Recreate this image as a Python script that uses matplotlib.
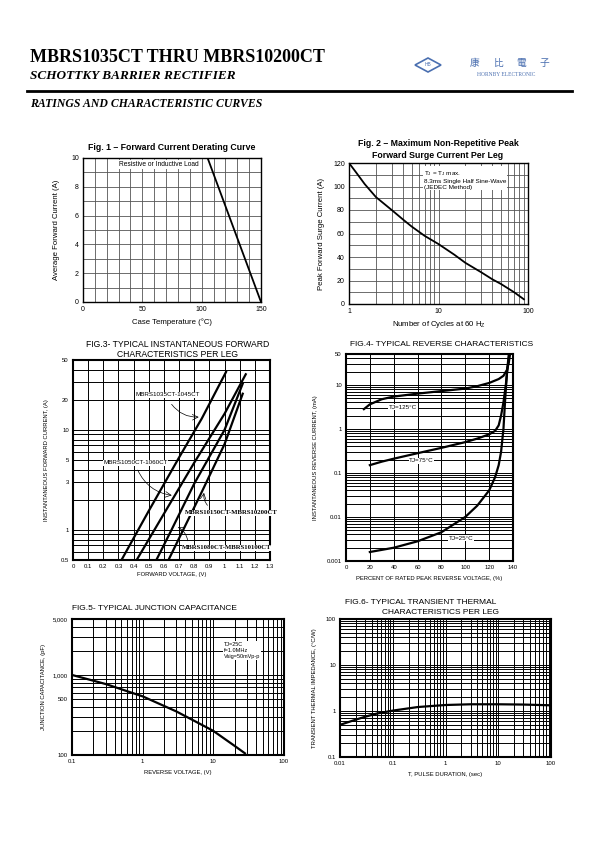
import matplotlib.pyplot as plt
import matplotlib.ticker as mticker
from matplotlib.patches import Polygon
import numpy as np

plt.rcParams['font.family'] = ['Liberation Sans', 'DejaVu Sans']

# ---- data ----
# Fig.1 derating
f1_temp = [0, 105, 150]
f1_curr = [10, 10, 0]

# Fig.2 surge current
f2_cycles = [1, 1.2, 1.5, 2, 3, 4, 5, 7, 10, 15, 20, 30, 40, 50, 70, 90]
f2_amps = [120, 112, 102, 91, 80, 72, 66, 58, 51, 42, 35, 27, 21, 17, 10, 4]

# Fig.3 forward characteristics (V, A)
f3_v1 = [0.32, 0.5, 0.7, 0.85, 1.01]
f3_i1 = [0.5, 1.55, 5.3, 13, 38]
f3_v2 = [0.42, 0.6, 0.8, 1.0, 1.14]
f3_i2 = [0.5, 1.45, 4.7, 14.5, 36]
f3_v3 = [0.55, 0.65, 0.8, 1.0, 1.12]
f3_i3 = [0.5, 1.0, 2.9, 10, 29]
f3_v4 = [0.63, 0.72, 0.85, 1.0, 1.12]
f3_i4 = [0.5, 0.95, 2.4, 7.2, 23]

# Fig.4 reverse characteristics (% VRRM, mA)
f4_x125 = [15, 20, 30, 40, 60, 80, 100, 110, 120, 128, 132, 135, 136.5, 137.5]
f4_y125 = [2.8, 3.6, 4.7, 5.4, 6.3, 7.2, 8.2, 9.3, 11, 13.5, 16, 22, 32, 50]
f4_x75 = [20, 30, 40, 60, 80, 100, 110, 120, 125, 128, 130, 132, 134, 135.5, 137]
f4_y75 = [0.15, 0.18, 0.21, 0.28, 0.37, 0.5, 0.6, 0.75, 0.9, 1.2, 2, 4, 10, 25, 50]
f4_x25 = [20, 40, 60, 80, 100, 110, 120, 125, 128, 130, 132, 133.5, 135, 136.5]
f4_y25 = [0.0016, 0.002, 0.0028, 0.0045, 0.01, 0.018, 0.04, 0.08, 0.15, 0.3, 1.0, 5, 20, 50]

# Fig.5 junction capacitance (V, pF)
f5_v = [0.1, 0.3, 1, 3, 10, 20, 28]
f5_c = [1000, 770, 540, 350, 200, 130, 105]

# Fig.6 transient thermal impedance (s, C/W)
f6_t = [0.01, 0.02, 0.03, 0.05, 0.1, 0.3, 1, 3, 10, 30, 100]
f6_z = [0.5, 0.65, 0.75, 0.88, 1.02, 1.22, 1.35, 1.4, 1.4, 1.38, 1.33]

W, H = 595, 842
fig = plt.figure(figsize=(5.95, 8.42), dpi=100)


def box(x0, y0, x1, y1):
    return [x0 / W, 1 - y1 / H, (x1 - x0) / W, (y1 - y0) / H]


def ftext(x, y, s, **kw):
    fig.text(x / W, 1 - y / H, s, **kw)


def style(ax, lw=1.0, fs=5):
    for s in ax.spines.values():
        s.set_linewidth(lw)
    ax.tick_params(which='both', length=0, labelsize=fs, pad=3)
    ax.set_axisbelow(True)


# ---- header ----
ftext(30, 57, 'MBRS1035CT THRU MBRS10200CT', family='Liberation Serif',
      weight='bold', fontsize=13, va='center')
ftext(30, 76, 'SCHOTTKY BARRIER RECTIFIER', family='Liberation Serif',
      weight='bold', style='italic', fontsize=9.5, va='center')
fig.add_artist(plt.Line2D([27 / W, 572 / W], [1 - 91 / H, 1 - 91 / H], color='black', lw=2))
ftext(30, 104, 'RATINGS AND CHARACTERISTIC CURVES', family='Liberation Serif',
      weight='bold', style='italic', fontsize=8.5, va='center')
logo_c = '#4a6fb0'
fig.add_artist(Polygon([[415 / W, 1 - 65 / H], [428 / W, 1 - 58 / H], [441 / W, 1 - 65 / H],
                        [428 / W, 1 - 72 / H]], closed=True, fill=False, ec=logo_c, lw=1.2))
ftext(428, 65, 'HB', fontsize=3.5, color=logo_c, ha='center', va='center')
for cx, ch in zip([475, 498, 521, 544], '康比電子'):
    ftext(cx, 63, ch, family=['Noto Sans CJK TC', 'DejaVu Sans'], fontsize=7,
          color=logo_c, ha='center', va='center')
ftext(506, 74, 'HORNBY ELECTRONIC', family='Liberation Serif', fontsize=4, color=logo_c,
      ha='center', va='center')

# ---- Fig.1 ----
ax1 = fig.add_axes(box(83, 158, 261, 302))
ax1.plot(f1_temp, f1_curr, color='black', lw=1.3)
ax1.set_xlim(0, 150)
ax1.set_ylim(0, 10)
ax1.set_xticks([0, 50, 100, 150])
ax1.set_yticks([0, 2, 4, 6, 8, 10])
ax1.xaxis.set_minor_locator(mticker.MultipleLocator(10))
ax1.yaxis.set_minor_locator(mticker.MultipleLocator(1))
ax1.grid(which='both', color='#555555', lw=0.6)
ax1.text(30, 9.55, 'Resistive or Inductive Load', fontsize=4.8, va='center',
         bbox=dict(fc='white', ec='none', pad=0.5))
style(ax1, 1.0, 5)
ax1.set_xlabel('Case Temperature (°C)', fontsize=5.6, labelpad=4)
ax1.set_ylabel('Average Forward Current (A)', fontsize=5.6, labelpad=8)
ftext(172, 147, 'Fig. 1 – Forward Current Derating Curve', fontsize=6.3, weight='bold',
      ha='center', va='center')

# ---- Fig.2 ----
ax2 = fig.add_axes(box(349, 163, 528, 304))
ax2.plot(f2_cycles, f2_amps, color='black', lw=1.3)
ax2.set_xscale('log')
ax2.set_xlim(1, 100)
ax2.set_ylim(0, 120)
ax2.set_xticks([1, 10, 100])
ax2.xaxis.set_major_formatter(mticker.FormatStrFormatter('%g'))
ax2.xaxis.set_minor_locator(mticker.LogLocator(subs=np.arange(2, 10)))
ax2.xaxis.set_minor_formatter(mticker.NullFormatter())
ax2.set_yticks(np.arange(0, 121, 20))
ax2.yaxis.set_minor_locator(mticker.MultipleLocator(10))
ax2.grid(which='both', color='#555555', lw=0.6)
ax2.text(6.8, 115, 'T$_\\mathregular{J}$ = T$_\\mathregular{J}$ max.\n8.3ms Single Half Sine-Wave\n(JEDEC Method)',
         fontsize=4.6, va='top', linespacing=1.25, bbox=dict(fc='white', ec='none', pad=0.5))
style(ax2, 1.0, 5)
ax2.set_xlabel('Number of Cycles at 60 H$_\\mathregular{Z}$', fontsize=5.6, labelpad=3)
ax2.set_ylabel('Peak Forward Surge Current (A)', fontsize=5.6, labelpad=6)
ftext(438, 143, 'Fig. 2 – Maximum Non-Repetitive Peak', fontsize=6.3, weight='bold',
      ha='center', va='center')
ftext(438, 155, 'Forward Surge Current Per Leg', fontsize=6.3, weight='bold',
      ha='center', va='center')

# ---- Fig.3 ----
ax3 = fig.add_axes(box(73, 360, 270, 560))
for v, i in [(f3_v1, f3_i1), (f3_v2, f3_i2), (f3_v3, f3_i3), (f3_v4, f3_i4)]:
    ax3.plot(v, i, color='black', lw=1.6)
ax3.set_yscale('log')
ax3.set_xlim(0, 1.3)
ax3.set_ylim(0.5, 50)
ax3.set_xticks(np.round(np.arange(0, 1.31, 0.1), 1))
ax3.xaxis.set_major_formatter(mticker.FormatStrFormatter('%g'))
ax3.set_yticks([0.5, 1, 3, 5, 10, 20, 50])
ax3.yaxis.set_major_formatter(mticker.FormatStrFormatter('%g'))
ax3.yaxis.set_minor_locator(mticker.FixedLocator(
    [0.6, 0.7, 0.8, 0.9, 2, 4, 6, 7, 8, 9, 30, 40]))
ax3.yaxis.set_minor_formatter(mticker.NullFormatter())
ax3.grid(which='both', color='black', lw=0.7)
lab = dict(fontsize=4.5, bbox=dict(fc='white', ec='none', pad=0.4))
serif = dict(fontsize=4.9, family='Liberation Serif', weight='bold',
             bbox=dict(fc='white', ec='none', pad=0.4))
arr = dict(arrowstyle='->', lw=0.5, color='black', connectionstyle='arc3,rad=0.3')
ax3.text(0.41, 22.5, 'MBRS1035CT-1045CT', va='center', **lab)
ax3.annotate('', xy=(0.848, 13.5), xytext=(0.64, 19), arrowprops=arr)
ax3.text(0.2, 4.7, 'MBRS1050CT-1060CT', va='center', **lab)
ax3.annotate('', xy=(0.67, 2.2), xytext=(0.42, 4.2), arrowprops=arr)
ax3.text(0.74, 1.48, 'MBRS10150CT-MBRS10200CT', va='center', **serif)
ax3.annotate('', xy=(0.868, 2.5), xytext=(0.9, 1.68),
             arrowprops=dict(arr, connectionstyle='arc3,rad=-0.3'))
ax3.text(0.72, 0.66, 'MBRS1080CT-MBRS10100CT', va='center', **serif)
ax3.annotate('', xy=(0.676, 1.1), xytext=(0.76, 0.73), arrowprops=arr)
style(ax3, 1.5, 4.3)
ax3.set_xlabel('FORWARD VOLTAGE, (V)', fontsize=4.2, labelpad=2)
ax3.set_ylabel('INSTANTANEOUS FORWARD CURRENT, (A)', fontsize=4.2, labelpad=8)
ftext(178, 345, 'FIG.3- TYPICAL INSTANTANEOUS FORWARD', fontsize=6.2, ha='center', va='center')
ftext(178, 354, 'CHARACTERISTICS PER LEG', fontsize=6.2, ha='center', va='center')

# ---- Fig.4 ----
ax4 = fig.add_axes(box(346, 354, 513, 561))
for x, y in [(f4_x125, f4_y125), (f4_x75, f4_y75), (f4_x25, f4_y25)]:
    ax4.plot(x, y, color='black', lw=1.6)
ax4.set_yscale('log')
ax4.set_xlim(0, 140)
ax4.set_ylim(0.001, 50)
ax4.set_xticks(np.arange(0, 141, 20))
ax4.set_yticks([0.001, 0.01, 0.1, 1, 10, 50])
ax4.yaxis.set_major_formatter(mticker.FormatStrFormatter('%g'))
ax4.yaxis.set_minor_locator(mticker.LogLocator(subs=np.arange(2, 10)))
ax4.yaxis.set_minor_formatter(mticker.NullFormatter())
ax4.grid(which='both', color='black', lw=0.7)
ax4.text(36, 3.1, 'TJ=125°C', va='center', **lab)
ax4.text(53, 0.19, 'TJ=75°C', va='center', **lab)
ax4.text(86, 0.0033, 'TJ=25°C', va='center', **lab)
style(ax4, 1.5, 4.3)
ax4.set_xlabel('PERCENT OF RATED PEAK REVERSE VOLTAGE, (%)', fontsize=4.2, labelpad=4)
ax4.set_ylabel('INSTANTANEOUS REVERSE CURRENT, (mA)', fontsize=4.2, labelpad=6)
ftext(442, 345, 'FIG.4- TYPICAL REVERSE CHARACTERISTICS', fontsize=6.0, ha='center', va='center')

# ---- Fig.5 ----
ax5 = fig.add_axes(box(72, 619, 284, 755))
ax5.plot(f5_v, f5_c, color='black', lw=1.6)
ax5.set_xscale('log')
ax5.set_yscale('log')
ax5.set_xlim(0.1, 100)
ax5.set_ylim(100, 5000)
ax5.set_xticks([0.1, 1, 10, 100])
ax5.xaxis.set_major_formatter(mticker.FormatStrFormatter('%g'))
ax5.xaxis.set_minor_locator(mticker.LogLocator(subs=np.arange(2, 10)))
ax5.xaxis.set_minor_formatter(mticker.NullFormatter())
ax5.yaxis.set_major_locator(mticker.FixedLocator([100, 500, 1000, 5000]))
ax5.yaxis.set_major_formatter(mticker.FixedFormatter(['100', '500', '1,000', '5,000']))
ax5.yaxis.set_minor_locator(mticker.FixedLocator([200, 300, 400, 600, 700, 800, 900, 2000, 3000, 4000]))
ax5.yaxis.set_minor_formatter(mticker.NullFormatter())
ax5.grid(which='both', color='black', lw=0.7)
ax5.text(14, 2600, 'TJ=25C\nf=1.0MHz\nVsig=50mVp-p', fontsize=4.0, va='top', linespacing=1.3,
         bbox=dict(fc='white', ec='none', pad=0.6))
style(ax5, 1.5, 4.3)
ax5.set_xlabel('REVERSE VOLTAGE, (V)', fontsize=4.2, labelpad=4)
ax5.set_ylabel('JUNCTION CAPACITANCE, (pF)', fontsize=4.2, labelpad=5)
ftext(72, 608, 'FIG.5- TYPICAL JUNCTION CAPACITANCE', fontsize=6.0, va='center')

# ---- Fig.6 ----
ax6 = fig.add_axes(box(340, 619, 551, 757))
ax6.plot(f6_t, f6_z, color='black', lw=1.6)
ax6.set_xscale('log')
ax6.set_yscale('log')
ax6.set_xlim(0.01, 100)
ax6.set_ylim(0.1, 100)
ax6.set_xticks([0.01, 0.1, 1, 10, 100])
ax6.set_yticks([0.1, 1, 10, 100])
for a in (ax6.xaxis, ax6.yaxis):
    a.set_major_formatter(mticker.FormatStrFormatter('%g'))
    a.set_minor_locator(mticker.LogLocator(subs=np.arange(2, 10)))
    a.set_minor_formatter(mticker.NullFormatter())
ax6.grid(which='both', color='black', lw=0.7)
style(ax6, 1.5, 4.3)
ax6.set_xlabel('T, PULSE DURATION, (sec)', fontsize=4.2, labelpad=4)
ax6.set_ylabel('TRANSIENT THERMAL IMPEDANCE, (°C/W)', fontsize=4.2, labelpad=6)
ftext(421, 603, 'FIG.6- TYPICAL TRANSIENT THERMAL', fontsize=6.0, ha='center', va='center')
ftext(441, 613, 'CHARACTERISTICS PER LEG', fontsize=6.0, ha='center', va='center')

fig.savefig('out.png', dpi=100)
